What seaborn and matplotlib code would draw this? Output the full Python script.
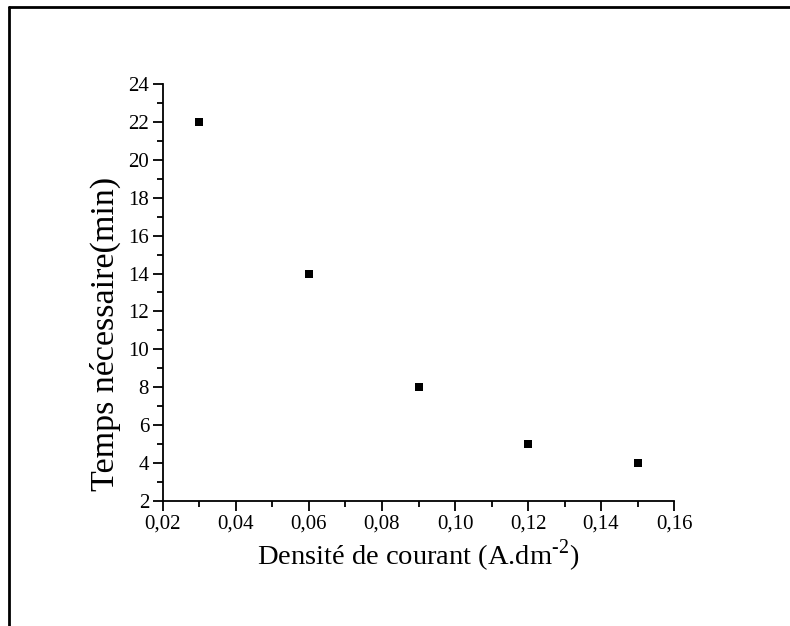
import matplotlib
matplotlib.use("Agg")
import matplotlib.pyplot as plt
from matplotlib.lines import Line2D
from matplotlib.ticker import MultipleLocator
import seaborn as sns
import pandas as pd

# Measured current density vs. required time
densite = [0.03, 0.06, 0.09, 0.12, 0.15]
temps = [22, 14, 8, 5, 4]

x_ticks = [0.02, 0.04, 0.06, 0.08, 0.10, 0.12, 0.14, 0.16]
x_tick_labels = ["0,02", "0,04", "0,06", "0,08", "0,10", "0,12", "0,14", "0,16"]
y_ticks = [2, 4, 6, 8, 10, 12, 14, 16, 18, 20, 22, 24]
y_tick_labels = [str(v) for v in y_ticks]

df = pd.DataFrame({"densite": densite, "temps": temps})

sns.set_theme(style="ticks")
plt.rcParams["font.family"] = ["Liberation Serif", "DejaVu Serif"]
plt.rcParams["mathtext.fontset"] = "custom"
plt.rcParams["mathtext.rm"] = "Liberation Serif"

fig = plt.figure(figsize=(7.9, 6.26), dpi=100)
ax = fig.add_axes([0.2063, 0.1997, 0.8532 - 0.2063, 0.8658 - 0.1997])

sns.scatterplot(data=df, x="densite", y="temps", marker="s", s=40,
                color="black", edgecolor="black", linewidth=0, ax=ax, zorder=3)

ax.set_xlim(0.02, 0.16)
ax.set_ylim(2, 24)
ax.set_xticks(x_ticks)
ax.set_xticklabels(x_tick_labels)
ax.set_yticks(y_ticks)
ax.set_yticklabels(y_tick_labels)
ax.xaxis.set_minor_locator(MultipleLocator(0.01))
ax.yaxis.set_minor_locator(MultipleLocator(1))

for side in ("top", "right"):
    ax.spines[side].set_visible(False)
for side in ("left", "bottom"):
    ax.spines[side].set_linewidth(1.3)
    ax.spines[side].set_color("black")

ax.tick_params(which="major", direction="out", length=7, width=1.3,
               labelsize=15, colors="black", pad=3)
ax.tick_params(which="minor", direction="out", length=4, width=1.3, colors="black")

ax.set_xlabel("Densité de courant (A.dm$^{\\mathrm{\\text{-}2}}$)", fontsize=20.5,
              color="black", labelpad=3)
ax.set_ylabel("Temps nécessaire(min)", fontsize=24.5, color="black")
ax.yaxis.set_label_coords(-0.082, 0.40)

# Outer frame lines along the top and left edges
fig.add_artist(Line2D([0.0114, 1.0], [1 - 7 / 626, 1 - 7 / 626],
                      transform=fig.transFigure, color="black", linewidth=2))
fig.add_artist(Line2D([0.0114, 0.0114], [0.0, 1 - 7 / 626],
                      transform=fig.transFigure, color="black", linewidth=2))

fig.savefig("out.png", dpi=100, facecolor="white")
